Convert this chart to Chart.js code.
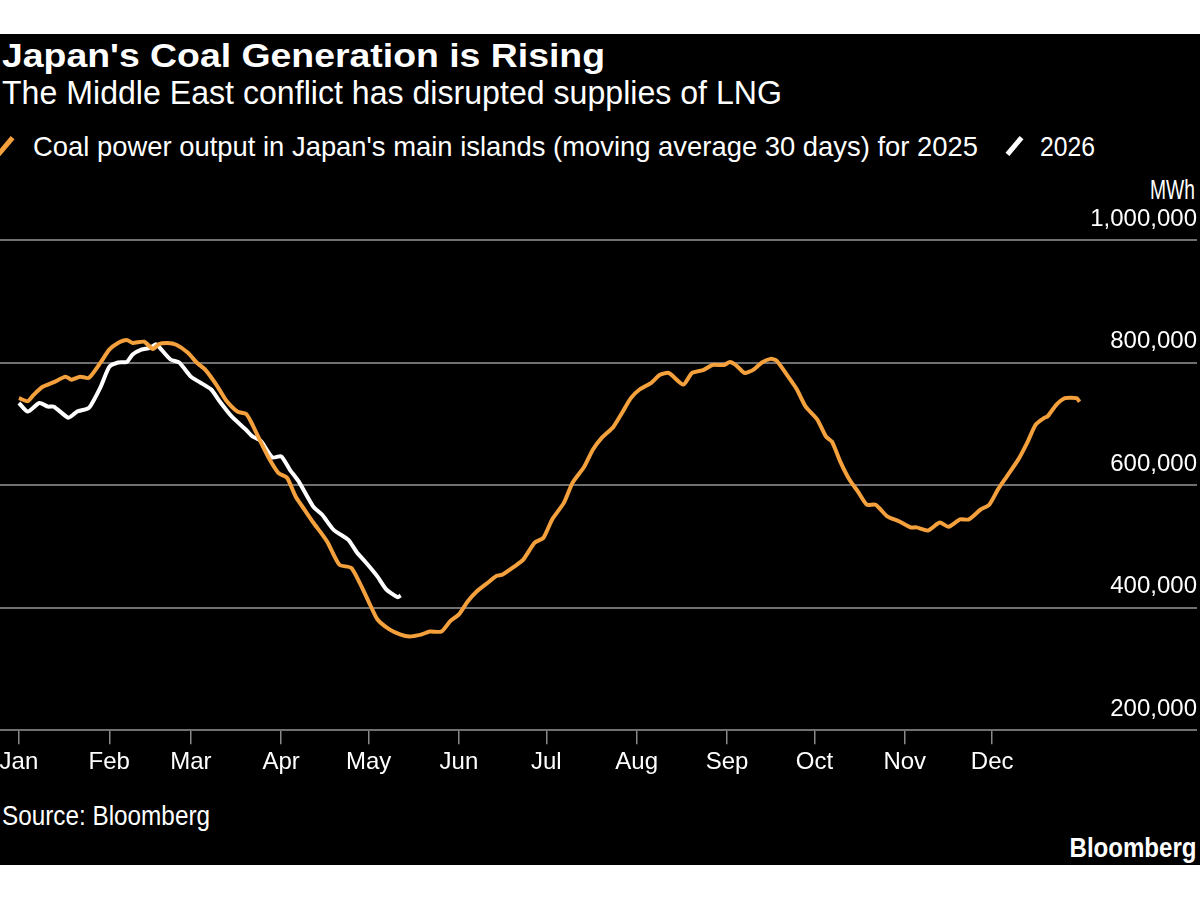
<!DOCTYPE html>
<html>
<head>
<meta charset="utf-8">
<script src="https://cdn.jsdelivr.net/npm/chart.js@4.4.1/dist/chart.umd.min.js"></script>
<style>
  body { margin: 0; background: #fff; width: 1200px; height: 900px; overflow: hidden; }
  #panel { position: absolute; left: 0; top: 34px; width: 1200px; height: 831px; background: #000; }
  .t { position: absolute; color: #fff; white-space: nowrap; line-height: 1; font-family: "Liberation Sans", sans-serif; transform-origin: left top; }
  .r { transform-origin: right top; }
  .slash { display: inline-block; width: 5px; height: 22px; transform: rotate(40deg); vertical-align: -2px; }
  #wrap { position: absolute; left: 0; top: 180px; width: 1200px; height: 620px; }
</style>
</head>
<body>
<div id="panel"></div>
<div class="t" id="title" style="left:2px; top:38px; font-size:34px; font-weight:bold;">Japan's Coal Generation is Rising</div>
<div class="t" id="sub" style="left:2px; top:76px; font-size:33px;">The Middle East conflict has disrupted supplies of LNG</div>
<div class="t" style="left:3px; top:135px;"><span class="slash" style="background:#F4A03C"></span></div>
<div class="t" id="leg1" style="left:33px; top:133px; font-size:28px;">Coal power output in Japan's main islands (moving average 30 days) for 2025</div>
<div class="t" style="left:1012px; top:135px;"><span class="slash" style="background:#fff"></span></div>
<div class="t" id="leg2" style="left:1040px; top:133px; font-size:28px;">2026</div>
<div class="t r" id="unit" style="right:5px; top:177px; font-size:27px;">MWh</div>
<div class="t" id="src" style="left:2px; top:803px; font-size:27px;">Source: Bloomberg</div>
<div class="t r" id="logo" style="right:3px; top:835px; font-size:27px; font-weight:bold;">Bloomberg</div>
<div id="wrap"><canvas id="chart"></canvas></div>
<script>
// day of year (0 = Jan 1) and 30-day average coal output, MWh
var days2025 = [0,3,5,8,12,16,18,21,24,28,31,34,37,39,43,46,48,51,54,58,61,64,68,71,75,78,80,83,86,89,92,95,98,101,104,106,110,114,117,120,123,127,131,134,138,141,145,148,151,154,157,161,164,166,170,173,177,180,183,187,190,194,197,200,204,207,210,213,217,220,223,228,231,235,238,242,244,246,249,252,255,258,260,264,267,270,274,277,279,282,285,288,291,294,298,302,306,308,312,316,319,323,326,330,333,336,339,343,346,349,352,353,356,359,363,364];
var coal2025 = [742000,737000,747000,760000,768000,777000,772000,777000,775000,800000,821000,832000,837000,832000,834000,822000,830000,832000,829000,816000,800000,788000,762000,739000,720000,716000,700000,670000,642000,620000,612000,581000,560000,539000,520000,506000,470000,465000,440000,410000,381000,365000,356000,353000,356000,361000,361000,378000,389000,410000,426000,441000,452000,454000,467000,478000,506000,514000,544000,571000,604000,630000,658000,677000,695000,718000,742000,756000,767000,780000,783000,764000,783000,788000,796000,796000,801000,796000,783000,788000,800000,806000,803000,777000,756000,728000,707000,679000,671000,637000,609000,589000,568000,568000,549000,541000,531000,531000,526000,539000,532000,544000,544000,560000,568000,593000,614000,642000,669000,699000,710000,712000,731000,742000,742000,736000];
var days2026 = [0,3,7,10,12,17,20,24,28,31,34,37,39,42,45,47,48,52,55,59,62,66,69,73,78,80,83,87,90,93,96,101,104,108,113,116,119,123,126,130,131];
var coal2026 = [734000,720000,734000,728000,728000,710000,720000,726000,760000,793000,800000,801000,813000,821000,824000,830000,826000,805000,800000,777000,768000,756000,736000,712000,690000,680000,672000,645000,647000,625000,606000,565000,552000,527000,511000,490000,474000,451000,430000,417000,420000];
var monthStarts = [0,31,59,90,120,151,181,212,243,273,304,334];
var monthLabels = ['Jan','Feb','Mar','Apr','May','Jun','Jul','Aug','Sep','Oct','Nov','Dec'];
var yTicks = [200000,400000,600000,800000,1000000];

function pts(xs, ys) {
  return xs.map(function(d, i){ return {x: d, y: ys[i]}; });
}

function fit(id, w) {
  var el = document.getElementById(id);
  var cw = el.getBoundingClientRect().width;
  el.style.transform = 'scaleX(' + (w / cw) + ')';
}
fit('title', 603);
fit('sub', 780);
fit('leg1', 945);
fit('leg2', 55);
fit('unit', 45);
fit('src', 208);
fit('logo', 127);

var font = "'Liberation Sans', sans-serif";

new Chart(document.getElementById('chart'), {
  type: 'line',
  data: {
    datasets: [
      {
        label: '2025',
        data: pts(days2025, coal2025),
        borderColor: '#F4A03C',
        borderWidth: 4,
        pointRadius: 0,
        tension: 0.2,
        borderJoinStyle: 'round'
      },
      {
        label: '2026',
        data: pts(days2026, coal2026),
        borderColor: '#ffffff',
        borderWidth: 4,
        pointRadius: 0,
        tension: 0.2,
        borderJoinStyle: 'round'
      }
    ]
  },
  options: {
    responsive: true,
    maintainAspectRatio: false,
    animation: false,
    layout: { padding: { top: 60, right: 3, bottom: 19, left: 0 } },
    plugins: { legend: { display: false }, tooltip: { enabled: false } },
    scales: {
      x: {
        type: 'linear',
        min: -6.5,
        max: 404.3,
        afterBuildTicks: function(scale) {
          scale.ticks = monthStarts.map(function(v){ return {value: v}; });
        },
        afterFit: function(scale) {
          scale.paddingLeft = 0;
          scale.paddingRight = 0;
        },
        ticks: {
          color: '#fff',
          font: { family: font, size: 24 },
          padding: 4,
          maxRotation: 0,
          autoSkip: false,
          callback: function(v) { return monthLabels[monthStarts.indexOf(v)]; }
        },
        grid: { drawOnChartArea: false, drawTicks: true, tickLength: 14, color: '#8a8a8a', lineWidth: 1.5 },
        border: { display: false }
      },
      y: {
        position: 'right',
        min: 200000,
        max: 1000000,
        afterBuildTicks: function(scale) {
          scale.ticks = yTicks.map(function(v){ return {value: v}; });
        },
        afterFit: function(scale) {
          scale.width = 0;
        },
        ticks: {
          mirror: true,
          color: '#fff',
          font: { family: font, size: 24 },
          padding: 0,
          labelOffset: -21,
          callback: function(v) { return v.toLocaleString('en-US'); }
        },
        grid: { drawTicks: false, color: '#707070', lineWidth: 2 },
        border: { display: false }
      }
    }
  }
});
</script>
</body>
</html>
